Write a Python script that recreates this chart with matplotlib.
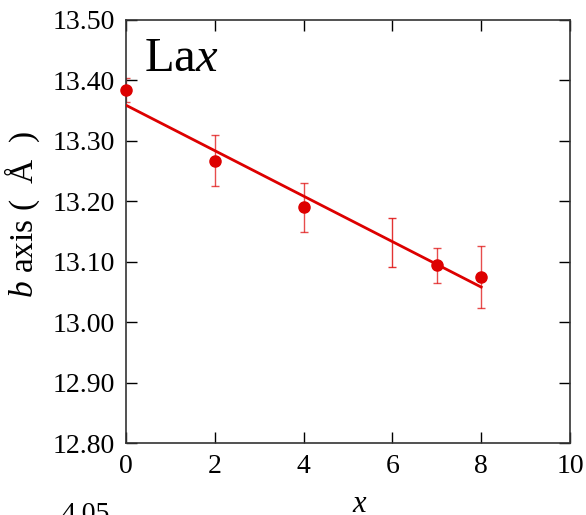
import matplotlib
matplotlib.use('Agg')
import matplotlib.pyplot as plt

plt.rcParams['font.family'] = 'Liberation Serif'
plt.rcParams['mathtext.fontset'] = 'custom'
plt.rcParams['mathtext.rm'] = 'Liberation Serif'
plt.rcParams['mathtext.it'] = 'Liberation Serif:italic'

# measured b axis values vs x
x_pts = [0, 2, 4, 7, 8]
b_pts = [13.384, 13.267, 13.190, 13.094, 13.075]
b_err = [0.020, 0.042, 0.041, 0.029, 0.051]

# error bar with no marker at x=6
x_nomark = [6]
b_nomark = [13.132]
err_nomark = [0.041]

# linear fit line
fit_x = [0, 8]
fit_b = [13.359, 13.058]

red = '#dd0000'

fig = plt.figure(figsize=(5.86, 5.15), dpi=100)
ax = fig.add_axes([0.215, 0.1398, 0.7577, 0.8214])

ax.errorbar(x_pts, b_pts, yerr=b_err, fmt='none', ecolor=red, elinewidth=1,
            capsize=3, capthick=1, alpha=0.7, zorder=2)
ax.errorbar(x_nomark, b_nomark, yerr=err_nomark, fmt='none', ecolor=red,
            elinewidth=1, capsize=3, capthick=1, alpha=0.8, zorder=2)
ax.plot(fit_x, fit_b, color=red, lw=2, zorder=3)
ax.plot(x_pts, b_pts, 'o', color=red, ms=8, zorder=4, clip_on=False)

ax.set_xlim(0, 10)
ax.set_ylim(12.80, 13.50)
ax.set_xticks([0, 2, 4, 6, 8, 10])
ax.set_yticks([12.80, 12.90, 13.00, 13.10, 13.20, 13.30, 13.40, 13.50])
ax.set_yticklabels(['%.2f' % v for v in ax.get_yticks()])
ax.tick_params(direction='in', top=True, right=True, length=8, width=1,
               labelsize=20, pad=8)
for s in ax.spines.values():
    s.set_linewidth(1.2)
    s.set_color('#333333')

ax.set_ylabel(r'$b$ axis (  Å  )', fontsize=24)
ax.yaxis.set_label_coords(-0.19, 0.54)
ax.set_xlabel(r'$x$', fontsize=22)
ax.xaxis.set_label_coords(0.527, -0.11)
ax.text(0.04, 0.96, r'La$x$', transform=ax.transAxes, fontsize=35,
        va='top', ha='left')

fig.text(0.105, 0.026, '4.05', fontsize=20, va='top', ha='left')

fig.savefig('out.png', dpi=100)
